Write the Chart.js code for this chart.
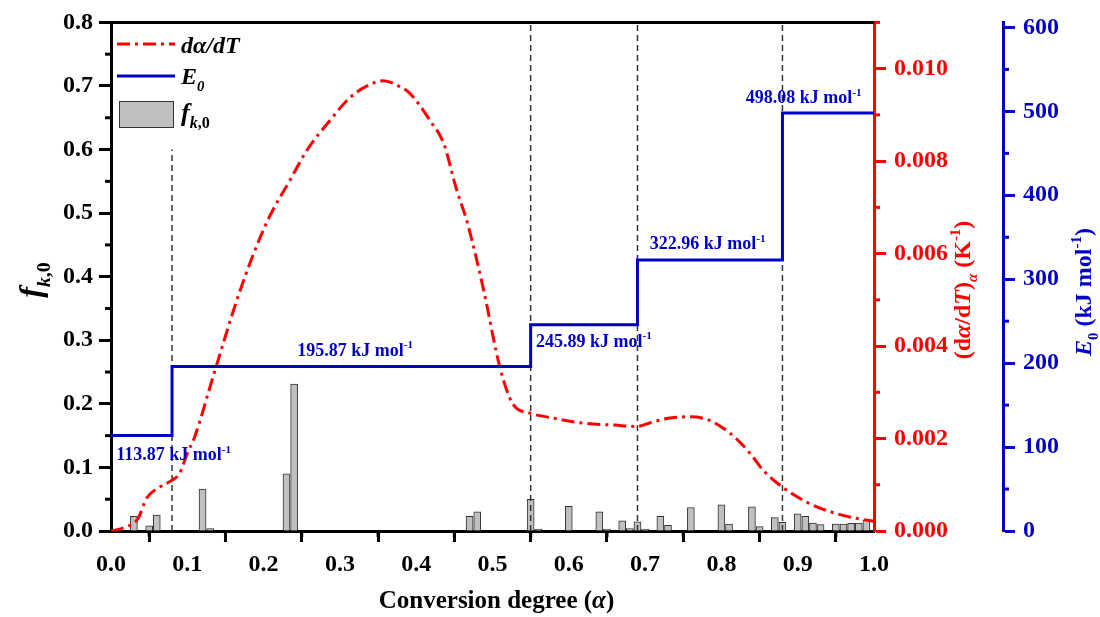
<!DOCTYPE html>
<html>
<head>
<meta charset="utf-8">
<script src="https://cdn.jsdelivr.net/npm/chart.js@4.4.1/dist/chart.umd.min.js"></script>
<style>
  html, body { margin: 0; padding: 0; background: #fff; }
  #wrap { width: 1100px; height: 617px; }
</style>
</head>
<body>
<div id="wrap"><canvas id="chart" width="1100" height="617"></canvas></div>
<script>
// f_k,0 distribution (bars)
const alphaBars = [0.03, 0.05, 0.06, 0.12, 0.13, 0.23, 0.24, 0.47, 0.48, 0.55, 0.56, 0.60, 0.64, 0.65,
  0.67, 0.68, 0.69, 0.70, 0.72, 0.73, 0.76, 0.80, 0.81, 0.84, 0.85, 0.87, 0.88, 0.90, 0.91, 0.92,
  0.93, 0.95, 0.96, 0.97, 0.98, 0.99];
const fk0 = [0.023, 0.008, 0.025, 0.066, 0.004, 0.090, 0.231, 0.023, 0.030, 0.050, 0.003, 0.039, 0.030, 0.003,
  0.016, 0.004, 0.0145, 0.003, 0.023, 0.009, 0.037, 0.041, 0.011, 0.038, 0.007, 0.021, 0.0135, 0.027, 0.023, 0.0125,
  0.010, 0.011, 0.011, 0.012, 0.0125, 0.017];

// d(alpha)/dT curve
const alphaRate = [0, 0.02, 0.035, 0.047, 0.064, 0.08, 0.09, 0.10, 0.11, 0.134, 0.17, 0.204, 0.235, 0.257,
  0.287, 0.313, 0.335, 0.357, 0.375, 0.392, 0.418, 0.436, 0.453, 0.467, 0.488, 0.51, 0.527, 0.549,
  0.58, 0.62, 0.66, 0.689, 0.71, 0.735, 0.76, 0.78, 0.80, 0.82, 0.84, 0.855, 0.88, 0.916, 0.95, 0.975, 1.0];
const rate = [0, 0.00009, 0.00026, 0.00072, 0.00095, 0.00110, 0.00125, 0.00168, 0.00205, 0.00335, 0.00524,
  0.00667, 0.00760, 0.00824, 0.00888, 0.00937, 0.00962, 0.00974, 0.00964, 0.00946, 0.00888, 0.00838,
  0.00738, 0.00667, 0.00524, 0.00352, 0.00274, 0.00255, 0.00244, 0.00233, 0.00229, 0.00226, 0.00236,
  0.00245, 0.00247, 0.00242, 0.00225, 0.00199, 0.00163, 0.00131, 0.00095, 0.00059, 0.00038, 0.00028, 0.00021];

// E0 steps
const stepEdges = [0, 0.08, 0.55, 0.69, 0.88, 1.0];
const e0Values = [113.87, 195.87, 245.89, 322.96, 498.08];

// dashed marker lines
const markerAlpha = [0.08, 0.55, 0.69, 0.88];
const markerTop = [0.6, 0.8, 0.8, 0.8];

// ticks
const xTicks = [0, 0.1, 0.2, 0.3, 0.4, 0.5, 0.6, 0.7, 0.8, 0.9, 1.0];
const xMinor = [0.05, 0.15, 0.25, 0.35, 0.45, 0.55, 0.65, 0.75, 0.85, 0.95];
const fTicks = [0, 0.1, 0.2, 0.3, 0.4, 0.5, 0.6, 0.7, 0.8];
const fMinor = [0.05, 0.15, 0.25, 0.35, 0.45, 0.55, 0.65, 0.75];
const rateTicks = [0, 0.002, 0.004, 0.006, 0.008, 0.010];
const rateMinor = [0.001, 0.003, 0.005, 0.007, 0.009, 0.011];
const eTicks = [0, 100, 200, 300, 400, 500, 600];
const eMinor = [50, 150, 250, 350, 450, 550];

const RED = '#ff0000';
const BLUE = '#0000c8';
const SERIF = '"Liberation Serif", "Times New Roman", serif';

// label placement for the E0 values (alpha of left edge, pixel offset from step line)
const e0LabelPos = [
  { x: 0.007, dy: 25 },
  { x: 0.244, dy: -11 },
  { x: 0.557, dy: 22 },
  { x: 0.706, dy: -11 },
  { x: 0.832, dy: -10 }
];

function fontFor(p, size) {
  const s = (p.sub || p.sup) ? size * 0.62 : size;
  return (p.it ? 'italic ' : '') + 'bold ' + s + 'px ' + SERIF;
}
function measureRich(ctx, parts, size) {
  let w = 0;
  parts.forEach(p => { ctx.font = fontFor(p, size); w += ctx.measureText(p.t).width; });
  return w;
}
function drawRich(ctx, parts, x, y, size, color) {
  let cx = x;
  ctx.fillStyle = color;
  ctx.textBaseline = 'alphabetic';
  ctx.textAlign = 'left';
  parts.forEach(p => {
    ctx.font = fontFor(p, size);
    const dy = p.sub ? size * 0.28 : p.sup ? -size * 0.4 : 0;
    ctx.fillText(p.t, cx, y + dy);
    cx += ctx.measureText(p.t).width;
  });
  return cx - x;
}
function drawRichCentered(ctx, parts, cx, cy, size, color, rotate) {
  const w = measureRich(ctx, parts, size);
  ctx.save();
  ctx.translate(cx, cy);
  if (rotate) ctx.rotate(-Math.PI / 2);
  drawRich(ctx, parts, -w / 2, size * 0.33, size, color);
  ctx.restore();
}

const extras = {
  id: 'extras',
  afterDraw(chart) {
    const ctx = chart.ctx;
    const a = chart.chartArea;
    const s = chart.scales;
    ctx.save();

    // top frame line
    ctx.strokeStyle = '#000';
    ctx.lineWidth = 3;
    ctx.beginPath();
    ctx.moveTo(a.left - 1.5, a.top);
    ctx.lineTo(a.right, a.top);
    ctx.stroke();

    // minor ticks
    function minor(scale, vals, color, len) {
      ctx.strokeStyle = color;
      ctx.lineWidth = 3;
      vals.forEach(v => {
        const p = scale.getPixelForValue(v);
        ctx.beginPath();
        if (scale.axis === 'x') {
          ctx.moveTo(p, a.bottom); ctx.lineTo(p, a.bottom + len);
        } else if (scale.position === 'left') {
          ctx.moveTo(a.left, p); ctx.lineTo(a.left - len, p);
        } else {
          ctx.moveTo(scale.left, p); ctx.lineTo(scale.left + len, p);
        }
        ctx.stroke();
      });
    }
    minor(s.x, xMinor, '#000', 6);
    minor(s.y, fMinor, '#000', 6);
    minor(s.yRate, rateMinor, RED, 6);
    minor(s.yE, eMinor, BLUE, 6);

    // E0 value labels
    e0Values.forEach((v, i) => {
      const pos = e0LabelPos[i];
      const px = s.x.getPixelForValue(pos.x);
      const py = s.yE.getPixelForValue(v) + pos.dy;
      drawRich(ctx, [{ t: v.toFixed(2) + ' kJ mol' }, { t: '-1', sup: true }], px, py, 18, BLUE);
    });

    // legend
    const ds = chart.data.datasets;
    ctx.lineWidth = 3;
    ctx.strokeStyle = RED;
    ctx.setLineDash(ds[1].borderDash);
    ctx.beginPath(); ctx.moveTo(117, 44); ctx.lineTo(175, 44); ctx.stroke();
    ctx.setLineDash([]);
    ctx.strokeStyle = BLUE;
    ctx.beginPath(); ctx.moveTo(117, 76); ctx.lineTo(175, 76); ctx.stroke();
    ctx.fillStyle = '#c0c0c0';
    ctx.fillRect(119, 101, 54, 26);
    ctx.strokeStyle = '#333';
    ctx.lineWidth = 1;
    ctx.strokeRect(119.5, 101.5, 54, 26);
    drawRich(ctx, [{ t: 'd\u03b1/dT', it: true }], 181, 53, 24, '#000');
    drawRich(ctx, [{ t: 'E', it: true }, { t: '0', it: true, sub: true }], 181, 84, 24, '#000');
    drawRich(ctx, [{ t: 'f', it: true }, { t: 'k', it: true, sub: true }, { t: ',0', sub: true }], 181, 121, 26, '#000');

    // axis titles
    drawRichCentered(ctx, [{ t: 'Conversion degree (' }, { t: '\u03b1', it: true }, { t: ')' }],
      (a.left + a.right) / 2 + 4, 600, 25, '#000', false);
    drawRichCentered(ctx, [{ t: 'f', it: true }, { t: 'k', it: true, sub: true }, { t: ',0', sub: true }],
      30, 280, 32, '#000', true);
    drawRichCentered(ctx, [{ t: '(d' }, { t: '\u03b1', it: true }, { t: '/d' }, { t: 'T', it: true }, { t: ')' },
      { t: '\u03b1', it: true, sub: true }, { t: ' (K' }, { t: '-1', sup: true }, { t: ')' }],
      s.yRate.left + 88, 290, 24, RED, true);
    drawRichCentered(ctx, [{ t: 'E', it: true }, { t: '0', sub: true }, { t: ' (kJ mol' }, { t: '-1', sup: true }, { t: ')' }],
      s.yE.left + 80, 292, 24, BLUE, true);

    ctx.restore();
  }
};

function axisGrid(color, len) {
  return { display: true, drawOnChartArea: false, drawTicks: true, tickLength: len, tickWidth: 3, tickColor: color };
}
function tickFont() {
  return { family: SERIF, size: 24, weight: 'bold' };
}

const datasets = [
  {
    type: 'line', label: 'E0',
    data: stepEdges.map((x, i) => ({ x: x, y: e0Values[Math.min(i, e0Values.length - 1)] })),
    yAxisID: 'yE', stepped: 'before', borderColor: BLUE, borderWidth: 3, pointRadius: 0, fill: false, order: 0
  },
  {
    type: 'line', label: 'dα/dT',
    data: alphaRate.map((x, i) => ({ x: x, y: rate[i] })),
    yAxisID: 'yRate', borderColor: RED, borderWidth: 3, borderDash: [13, 5, 3, 5],
    pointRadius: 0, tension: 0.4, cubicInterpolationMode: 'monotone', fill: false, order: 1
  }
];
markerAlpha.forEach((m, i) => {
  datasets.push({
    type: 'line', label: 'marker',
    data: [{ x: m, y: 0 }, { x: m, y: markerTop[i] }],
    yAxisID: 'y', borderColor: '#333', borderWidth: 1.5, borderDash: [6, 4], pointRadius: 0, fill: false, order: 2
  });
});
datasets.push({
  type: 'bar', label: 'fk0',
  data: alphaBars.map((x, i) => ({ x: x, y: fk0[i] })),
  yAxisID: 'y', backgroundColor: '#c0c0c0', borderColor: '#333', borderWidth: 1,
  barThickness: 7, order: 3
});

new Chart(document.getElementById('chart'), {
  type: 'bar',
  data: { datasets: datasets },
  plugins: [extras],
  options: {
    responsive: false,
    animation: false,
    layout: { padding: { top: 18, left: 0, right: 0, bottom: 0 } },
    plugins: { legend: { display: false }, tooltip: { enabled: false } },
    scales: {
      x: {
        type: 'linear', min: 0, max: 1, offset: false,
        afterBuildTicks: sc => { sc.ticks = xTicks.map(v => ({ value: v })); },
        afterFit: sc => { sc.height = 86; },
        ticks: { font: tickFont(), color: '#000', padding: 8, maxRotation: 0, callback: v => v.toFixed(1) },
        grid: axisGrid('#000', 11),
        border: { display: true, color: '#000', width: 3 }
      },
      y: {
        position: 'left', min: 0, max: 0.8,
        afterBuildTicks: sc => { sc.ticks = fTicks.map(v => ({ value: v })); },
        afterFit: sc => { sc.width = 111; },
        ticks: { font: tickFont(), color: '#000', padding: 6, callback: v => v.toFixed(1) },
        grid: axisGrid('#000', 12),
        border: { display: true, color: '#000', width: 3 }
      },
      yRate: {
        position: 'right', weight: 0, min: 0, max: 0.011,
        afterBuildTicks: sc => { sc.ticks = rateTicks.map(v => ({ value: v })); },
        afterFit: sc => { sc.width = 129; },
        ticks: { font: tickFont(), color: RED, padding: 8, callback: v => v.toFixed(3) },
        grid: axisGrid(RED, 12),
        border: { display: true, color: RED, width: 3 }
      },
      yE: {
        position: 'right', weight: 1, min: 0, max: 606,
        afterBuildTicks: sc => { sc.ticks = eTicks.map(v => ({ value: v })); },
        afterFit: sc => { sc.width = 97; },
        ticks: { font: tickFont(), color: BLUE, padding: 8, callback: v => String(v) },
        grid: axisGrid(BLUE, 12),
        border: { display: true, color: BLUE, width: 3 }
      }
    }
  }
});
</script>
</body>
</html>
